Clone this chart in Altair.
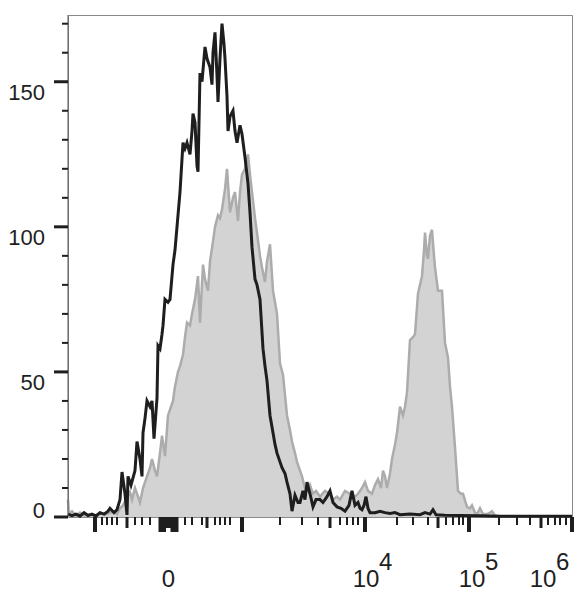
import altair as alt
import pandas as pd

# (display channel position 0..504 across the plot, count) pairs
black_pts = [(0, 1), (4, 0.5), (8, 1), (12, 0.3), (16, 1.5), (20, 0.5), (24, 1), (28, 0.3), (32, 1.5), (36, 1),
             (40, 2), (42, 3), (46, 1.5), (49, 2.5), (52, 6), (54, 15.5), (57, 8), (59, 0.7), (60, 14), (63, 11),
             (65, 13.5), (67, 16), (69, 26), (72, 20), (74, 14), (75, 29), (77, 34), (79, 40), (82, 38), (84, 40),
             (86, 27), (89, 41), (90, 59), (92, 58), (94, 63), (95, 66), (97, 75), (100, 74), (102, 75), (105, 87),
             (107, 92), (109, 100), (112, 112), (115, 129), (117, 127), (119, 129), (122, 125), (124, 133),
             (125, 139), (127, 136), (129, 121), (130, 119), (132, 153), (134, 150), (137, 162), (139, 158),
             (140, 157), (142, 155), (144, 149), (145, 160), (147, 167), (149, 152), (150, 143), (152, 158),
             (154, 170), (156, 163), (157, 158), (159, 145), (160, 133), (162, 138), (165, 140), (167, 133),
             (169, 129), (172, 135), (174, 132), (177, 124), (180, 115), (182, 105), (184, 93), (187, 82),
             (189, 80), (192, 75), (195, 58), (197, 52), (199, 47), (202, 35), (205, 29), (207, 25), (209, 22),
             (212, 19), (214, 17), (217, 15), (219, 12), (222, 8), (224, 2), (227, 7.5), (230, 5), (232, 5),
             (235, 9), (237, 6), (239, 12), (242, 8), (245, 3.5), (248, 6), (252, 6), (255, 5), (259, 7), (262, 9),
             (265, 5), (269, 3.5), (273, 3), (277, 2), (281, 4), (284, 9), (287, 4), (290, 5), (292, 3),
             (294, 2.5), (296, 4), (298, 7), (300, 3), (302, 1.5), (307, 1.5), (312, 2), (317, 1.5), (322, 1.2),
             (327, 1.5), (332, 0.8), (342, 1), (352, 0.8), (357, 1.5), (362, 1), (365, 2.5), (368, 0.8),
             (377, 0.6), (392, 0.5), (412, 0.4), (432, 0.3), (452, 0.3), (472, 0.3), (492, 0.3), (504, 0.3)]

gray_pts = [(0, 6), (1, 1), (4, 2), (8, 0.5), (12, 1.5), (16, 0.5), (22, 1), (27, 0.5), (32, 1.5), (37, 0.8),
            (42, 1.5), (47, 2), (49, 1), (52, 3), (55, 4), (58, 6), (62, 8.6), (64, 6), (67, 10), (70, 7), (72, 5),
            (75, 10), (79, 14), (82, 17), (84, 20), (87, 16), (89, 14), (92, 22), (94, 28), (97, 21), (100, 35),
            (102, 37), (105, 40), (107, 45), (110, 50), (112, 52), (115, 56), (117, 62), (119, 67), (122, 66),
            (124, 70), (127, 75), (130, 83), (132, 67), (135, 87), (137, 82), (140, 78), (142, 88), (145, 95),
            (147, 100), (150, 104), (152, 103), (154, 106), (157, 113), (159, 120), (162, 105), (165, 110),
            (167, 112), (170, 102), (172, 112), (174, 118), (177, 120), (180, 125), (182, 118), (185, 109),
            (187, 103), (189, 98), (192, 90), (194, 86), (197, 81), (199, 88), (202, 94), (205, 78), (207, 74),
            (209, 70), (212, 53), (215, 49), (217, 42), (219, 35), (222, 30), (224, 26), (227, 22), (229, 19),
            (232, 16), (234, 14), (237, 10), (240, 9), (242, 11), (245, 8), (248, 9), (252, 7), (257, 9),
            (262, 8), (265, 6), (269, 7), (272, 6), (277, 9), (282, 8), (287, 7), (290, 8), (294, 10), (297, 12),
            (300, 9), (304, 8), (307, 11), (310, 13), (313, 10), (315, 16), (317, 14), (319, 10), (322, 15),
            (324, 20), (327, 25), (329, 29), (332, 38), (335, 35), (337, 38), (339, 43), (342, 61), (345, 62),
            (347, 63), (350, 77), (352, 80), (354, 83), (356, 92), (357, 98), (359, 90), (360, 89), (362, 97),
            (364, 99), (366, 90), (367, 86), (370, 78), (374, 78), (377, 60), (380, 55), (382, 45), (384, 38),
            (387, 24), (390, 9), (393, 8), (395, 8), (399, 3.5), (402, 3), (404, 4), (407, 1.5), (409, 1),
            (412, 3), (415, 1), (419, 1), (422, 1.5), (424, 2), (427, 0.5), (432, 0.3), (452, 0.2), (472, 0.2),
            (504, 0.2)]

y_major = [0, 50, 100, 150]
y_major_labels = ["0", "50", "100", "150"]
y_minor = [10, 20, 30, 40, 60, 70, 80, 90, 110, 120, 130, 140, 160, 170]

x_major = [27, 92.5, 94.5, 96, 104.5, 106.5, 108.5, 174, 297, 401, 504]
x_medium = [59, 98, 100, 102, 139, 262, 370, 473]
x_minor = [34, 39, 44, 49, 67, 74, 82, 117, 124, 134, 147, 152, 157, 162,
           212, 234, 250, 272, 279, 285, 290, 329, 345, 360, 378, 385, 391, 395,
           431, 449, 462, 480, 487, 492, 498]

x_label_pos = [100.5, 298, 404, 475]
x_label_base = ["0", "10", "10", "10"]
x_sup_pos = [298, 404, 475]
x_sup_text = ["4", "5", "6"]

W, H = 504, 502
FONT = "Liberation Sans, Arial, Helvetica, sans-serif"
INK = "#1e1e1e"

xs = alt.Scale(domain=[0, 504], nice=False, zero=False)
ys = alt.Scale(domain=[0, 173], nice=False, zero=True)

gray_df = pd.DataFrame(gray_pts, columns=["x", "y"])
black_df = pd.DataFrame(black_pts, columns=["x", "y"])

X = alt.X("x:Q", scale=xs, axis=None)
Y = alt.Y("y:Q", scale=ys, axis=None)

area = alt.Chart(gray_df).mark_area(color="#d3d3d3", opacity=1).encode(x=X, y=Y)
area_line = alt.Chart(gray_df).mark_line(color="#acacac", strokeWidth=2.5).encode(x=X, y=Y)
black_line = alt.Chart(black_df).mark_line(color=INK, strokeWidth=3).encode(x=X, y=Y)

left_line = alt.Chart(pd.DataFrame({"y": [0]})).mark_rule(color="#555555", strokeWidth=1).encode(
    x=alt.value(0), y=alt.value(0), y2=alt.value(H))


def xticks(vals, length, width):
    return alt.Chart(pd.DataFrame({"x": vals})).mark_rule(color=INK, strokeWidth=width).encode(
        x=X, y=alt.value(H), y2=alt.value(H + length))


def yticks(vals, length, width):
    return alt.Chart(pd.DataFrame({"y": vals})).mark_rule(color=INK, strokeWidth=width).encode(
        y=Y, x=alt.value(-length), x2=alt.value(0))


ylab_df = pd.DataFrame({"y": y_major, "t": y_major_labels})
ylab_top = alt.Chart(ylab_df[ylab_df.y > 0]).mark_text(
    font=FONT, fontSize=22, color=INK, align="right", baseline="top", dy=1).encode(
    y=Y, x=alt.value(-23), text="t:N")
ylab_zero = alt.Chart(ylab_df[ylab_df.y == 0]).mark_text(
    font=FONT, fontSize=22, color=INK, align="right", baseline="alphabetic", dy=1).encode(
    y=Y, x=alt.value(-23), text="t:N")

xlab = alt.Chart(pd.DataFrame({"x": x_label_pos, "t": x_label_base})).mark_text(
    font=FONT, fontSize=24, color=INK, align="center", baseline="alphabetic").encode(
    x=X, y=alt.value(572), text="t:N")
xsup = alt.Chart(pd.DataFrame({"x": x_sup_pos, "t": x_sup_text})).mark_text(
    font=FONT, fontSize=24, color=INK, align="left", baseline="alphabetic", dx=13).encode(
    x=X, y=alt.value(555), text="t:N")

chart = alt.layer(
    area, area_line, black_line, left_line,
    xticks(x_minor, 8, 2), xticks(x_medium, 11, 3), xticks(x_major, 15, 4),
    yticks(y_minor, 6, 2), yticks(y_major, 14, 3),
    ylab_top, ylab_zero, xlab, xsup,
).properties(
    width=W, height=H,
    padding={"left": 60, "top": 7, "right": 3, "bottom": 78},
    autosize=alt.AutoSizeParams(type="none"),
).configure_view(stroke="#8a8a8a", strokeWidth=1)

chart.save("out.html", embed_options={"renderer": "svg", "actions": False})
